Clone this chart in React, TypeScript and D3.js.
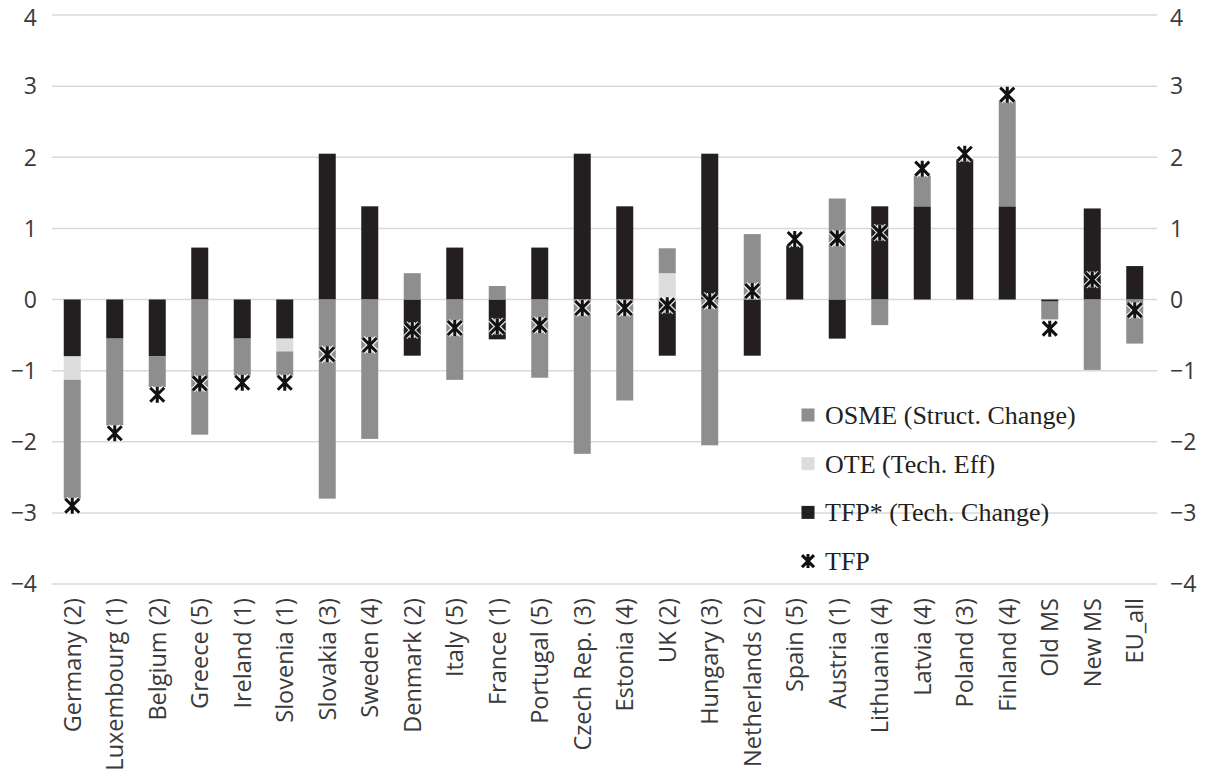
import React from "react";
import * as d3 from "d3";

// Decomposition of TFP growth by country group
const categories = [
  "Germany (2)", "Luxembourg (1)", "Belgium (2)", "Greece (5)", "Ireland (1)",
  "Slovenia (1)", "Slovakia (3)", "Sweden (4)", "Denmark (2)", "Italy (5)",
  "France (1)", "Portugal (5)", "Czech Rep. (3)", "Estonia (4)", "UK (2)",
  "Hungary (3)", "Netherlands (2)", "Spain (5)", "Austria (1)", "Lithuania (4)",
  "Latvia (4)", "Poland (3)", "Finland (4)", "Old MS", "New MS", "EU_all",
];

// TFP* (technical change)
const tfpStar = [
  -0.8, -0.55, -0.8, 0.73, -0.55, -0.55, 2.05, 1.31, -0.79, 0.73,
  -0.56, 0.73, 2.05, 1.31, -0.79, 2.05, -0.79, 0.76, -0.55, 1.31,
  1.31, 1.97, 1.31, -0.03, 1.28, 0.47,
];
// OTE (technical efficiency)
const ote = [
  -0.33, 0, 0, 0, 0, -0.18, 0, 0, 0, 0,
  0, 0, 0, 0, 0.37, 0, 0, 0, 0, 0,
  0, 0, 0, 0, 0, 0,
];
// OSME (structural change)
const osme = [
  -1.67, -1.22, -0.43, -1.9, -0.52, -0.34, -2.8, -1.96, 0.37, -1.13,
  0.19, -1.1, -2.17, -1.42, 0.35, -2.05, 0.92, 0, 1.42, -0.36,
  0.43, 0, 1.48, -0.25, -0.99, -0.62,
];
// TFP total
const tfp = [
  -2.9, -1.88, -1.34, -1.18, -1.17, -1.17, -0.77, -0.64, -0.43, -0.4,
  -0.38, -0.36, -0.12, -0.12, -0.08, -0.02, 0.12, 0.85, 0.86, 0.94,
  1.84, 2.05, 2.88, -0.41, 0.28, -0.15,
];

const yTicks = [-4, -3, -2, -1, 0, 1, 2, 3, 4];

const seriesKeys = ["tfpStar", "ote", "osme"];
const seriesColor: Record<string, string> = {
  tfpStar: "#231f20",
  ote: "#dcdcdc",
  osme: "#8e8e8e",
};

const legendItems = [
  { key: "osme", label: "OSME (Struct. Change)" },
  { key: "ote", label: "OTE (Tech. Eff)" },
  { key: "tfpStar", label: "TFP* (Tech. Change)" },
  { key: "tfp", label: "TFP" },
];

const W = 1206;
const H = 774;

const table = categories.map((c, i) => ({
  cat: c,
  tfpStar: tfpStar[i],
  ote: ote[i],
  osme: osme[i],
}));

const starPath = (s: number) =>
  `M${-s},${-s}L${s},${s}M${-s},${s}L${s},${-s}M0,${-s - 1}L0,${s + 1}`;

const fmt = (t: number) => (t < 0 ? "\u2212" + Math.abs(t) : String(t));

export default function App() {
  const x = d3
    .scaleBand<string>()
    .domain(categories)
    .range([51, 1156])
    .paddingInner(0.6)
    .paddingOuter(0.3);
  const y = d3.scaleLinear().domain([-4, 4]).range([584, 15]);

  const stack = d3
    .stack<any>()
    .keys(seriesKeys)
    .offset(d3.stackOffsetDiverging);
  const layers = stack(table);

  const tickFont = "'Open Sans', 'DejaVu Sans', sans-serif";
  const serif = "'Liberation Serif', 'DejaVu Serif', serif";

  // keep the topmost tick label inside the drawing area
  const labelY = (t: number) => Math.max(y(t), 17.5);

  return (
    <svg
      width={W}
      height={H}
      style={{ position: "absolute", left: 0, top: 0, background: "#fff" }}
    >
      {/* grid */}
      {yTicks.map((t) => (
        <line
          key={"g" + t}
          x1={52}
          x2={1157}
          y1={y(t)}
          y2={y(t)}
          stroke="#d9d9d9"
          strokeWidth={1.5}
        />
      ))}
      {/* left and right tick labels */}
      <g fontFamily={tickFont} fontSize={23} fill="#3a3a3a">
        {yTicks.map((t) => (
          <g key={"t" + t}>
            <text x={37} y={labelY(t)} dy="0.36em" textAnchor="end">
              {fmt(t)}
            </text>
            <text x={1170} y={labelY(t)} dy="0.36em" textAnchor="start">
              {fmt(t)}
            </text>
          </g>
        ))}
      </g>

      {/* stacked bars */}
      {layers.map((layer) => (
        <g key={layer.key} fill={seriesColor[layer.key]}>
          {layer.map((d, i) => {
            const y0 = y(d[0]);
            const y1 = y(d[1]);
            const top = Math.min(y0, y1);
            const h = Math.abs(y0 - y1);
            if (h < 0.01) return null;
            return (
              <rect
                key={i}
                x={x(categories[i])}
                y={top}
                width={x.bandwidth()}
                height={Math.max(h, 1)}
              />
            );
          })}
        </g>
      ))}

      {/* TFP markers */}
      {tfp.map((v, i) => {
        const cx = (x(categories[i]) as number) + x.bandwidth() / 2;
        const cy = y(v);
        return (
          <g key={"m" + i} transform={`translate(${cx},${cy})`}>
            <path
              d={starPath(7)}
              stroke="#ffffff"
              strokeWidth={5.5}
              strokeOpacity={0.85}
              fill="none"
            />
            <path d={starPath(7)} stroke="#111" strokeWidth={3} fill="none" />
          </g>
        );
      })}

      {/* category labels */}
      {categories.map((c) => {
        const cx = (x(c) as number) + x.bandwidth() / 2;
        return (
          <text
            key={"c" + c}
            transform={`translate(${cx},${598}) rotate(-90)`}
            dy="0.36em"
            textAnchor="end"
            fontFamily={tickFont}
            fontSize={23.5}
            fill="#3a3a3a"
          >
            {c}
          </text>
        );
      })}

      {/* legend */}
      {legendItems.map((item, i) => {
        const ly = 415 + i * 48.7;
        return (
          <g key={item.key} transform={`translate(808,${ly})`}>
            {item.key === "tfp" ? (
              <path d={starPath(6)} stroke="#111" strokeWidth={3} fill="none" />
            ) : (
              <rect
                x={-6.5}
                y={-6.5}
                width={13}
                height={13}
                fill={seriesColor[item.key]}
              />
            )}
            <text
              x={17}
              dy="0.34em"
              fontFamily={serif}
              fontSize={26}
              fill="#231f20"
            >
              {item.label}
            </text>
          </g>
        );
      })}
    </svg>
  );
}
